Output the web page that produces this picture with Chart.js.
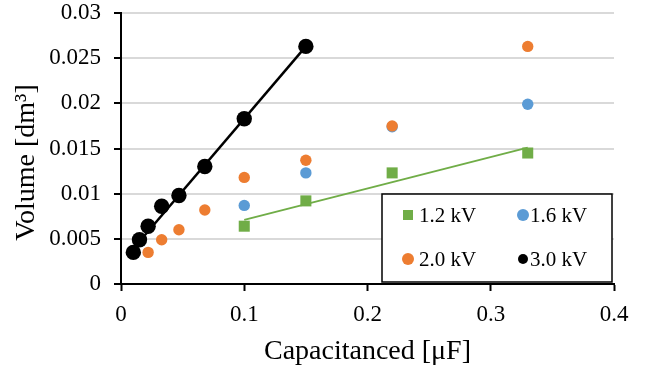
<!DOCTYPE html>
<html>
<head>
<meta charset="utf-8">
<script src="https://cdn.jsdelivr.net/npm/chart.js@4/dist/chart.umd.min.js"></script>
<style>
  html, body { margin: 0; padding: 0; background: #fff; }
  #wrap { width: 655px; height: 371px; }
</style>
</head>
<body>
<div id="wrap"><canvas id="chart" width="655" height="371"></canvas></div>
<script>
// Series data (capacitance in µF, volume in dm3)
const seriesNames = ['1.2 kV', '1.6 kV', '2.0 kV', '3.0 kV'];
const cap12 = [0.1, 0.15, 0.22, 0.33];
const vol12 = [0.0064, 0.0092, 0.0123, 0.0145];
const cap16 = [0.1, 0.15, 0.22, 0.33];
const vol16 = [0.0087, 0.0123, 0.0174, 0.0199];
const cap20 = [0.022, 0.033, 0.047, 0.068, 0.1, 0.15, 0.22, 0.33];
const vol20 = [0.0035, 0.0049, 0.0060, 0.0082, 0.0118, 0.0137, 0.0175, 0.0263];
const cap30 = [0.01, 0.015, 0.022, 0.033, 0.047, 0.068, 0.1, 0.15];
const vol30 = [0.0035, 0.0049, 0.0064, 0.0086, 0.0098, 0.0130, 0.0183, 0.0263];

// Trend line end points as drawn in the reference
const trendCap12 = [0.1, 0.33];
const trendVol12 = [0.0071, 0.0151];
const trendCap30 = [0.01, 0.15];
const trendVol30 = [0.0039, 0.0263];

const xTickLabels = ['0', '0.1', '0.2', '0.3', '0.4'];
const yTickLabels = ['0', '0.005', '0.01', '0.015', '0.02', '0.025', '0.03'];

const FONT = "'Liberation Serif', 'Times New Roman', serif";
const GREEN = '#70AD47', BLUE = '#5B9BD5', ORANGE = '#ED7D31', BLACK = '#000000';

const toPoints = (xs, ys) => xs.map((x, i) => ({ x: x, y: ys[i] }));

// Boxed 2x2 legend in the lower right corner of the plot
const boxLegend = {
  id: 'boxLegend',
  afterDraw(chart) {
    const ctx = chart.ctx;
    const area = chart.chartArea;
    const left = area.right - 232, top = area.bottom - 90;
    const w = 230, h = 88;
    ctx.save();
    ctx.fillStyle = '#fff';
    ctx.fillRect(left, top, w, h);
    ctx.strokeStyle = '#000';
    ctx.lineWidth = 1.5;
    ctx.strokeRect(left, top, w, h);

    const items = [
      { ds: 0, cx: left + 26, tx: left + 37, cy: top + 21 },
      { ds: 1, cx: left + 141, tx: left + 148, cy: top + 21 },
      { ds: 2, cx: left + 26, tx: left + 37, cy: top + 65 },
      { ds: 3, cx: left + 141, tx: left + 148, cy: top + 65 }
    ];
    ctx.font = '21px ' + FONT;
    ctx.textBaseline = 'middle';
    ctx.textAlign = 'left';
    items.forEach(it => {
      const ds = chart.data.datasets[it.ds];
      ctx.fillStyle = ds.backgroundColor;
      if (ds.pointStyle === 'rect') {
        ctx.fillRect(it.cx - 5, it.cy - 5, 10, 10);
      } else {
        const r = it.ds === 3 ? 5 : 6;
        ctx.beginPath();
        ctx.arc(it.cx, it.cy, r, 0, Math.PI * 2);
        ctx.fill();
      }
      ctx.fillStyle = '#000';
      ctx.fillText(seriesNames[it.ds], it.tx, it.cy + 1);
    });
    ctx.restore();
  }
};

new Chart(document.getElementById('chart'), {
  type: 'scatter',
  data: {
    datasets: [
      {
        label: seriesNames[0], data: toPoints(cap12, vol12),
        pointStyle: 'rect', pointRadius: 7.8, backgroundColor: GREEN,
        borderWidth: 0, order: 4
      },
      {
        label: seriesNames[1], data: toPoints(cap16, vol16),
        pointStyle: 'circle', pointRadius: 5.7, backgroundColor: BLUE,
        borderWidth: 0, order: 3
      },
      {
        label: seriesNames[2], data: toPoints(cap20, vol20),
        pointStyle: 'circle', pointRadius: 5.7, backgroundColor: ORANGE,
        borderWidth: 0, order: 2
      },
      {
        label: seriesNames[3], data: toPoints(cap30, vol30),
        pointStyle: 'circle', pointRadius: 7.7, backgroundColor: BLACK,
        borderWidth: 0, order: 1
      },
      {
        label: 'trend 1.2', data: toPoints(trendCap12, trendVol12),
        showLine: true, pointRadius: 0, borderColor: GREEN, borderWidth: 2,
        backgroundColor: GREEN, order: 0
      },
      {
        label: 'trend 3.0', data: toPoints(trendCap30, trendVol30),
        showLine: true, pointRadius: 0, borderColor: BLACK, borderWidth: 2.5,
        backgroundColor: BLACK, order: 0
      }
    ]
  },
  options: {
    responsive: false,
    animation: false,
    layout: { padding: { top: 13, right: 41, left: 0, bottom: 0 } },
    plugins: {
      legend: { display: false },
      tooltip: { enabled: false }
    },
    scales: {
      x: {
        type: 'linear', min: 0, max: 0.4,
        afterFit: s => { s.height = 87; s.paddingLeft = 0; s.paddingRight = 0; },
        afterBuildTicks: s => { s.ticks = xTickLabels.map(l => ({ value: parseFloat(l) })); },
        border: { color: '#000', width: 2 },
        grid: { drawOnChartArea: false, drawTicks: true, tickLength: 7, tickColor: '#000', tickWidth: 2 },
        ticks: {
          color: '#000', padding: 10, maxRotation: 0,
          font: { family: FONT, size: 23 },
          callback: (v, i) => xTickLabels[i]
        },
        title: {
          display: true, text: 'Capacitanced [μF]', color: '#000',
          font: { family: FONT, size: 28 }, padding: { top: 0, bottom: 3 }
        }
      },
      y: {
        type: 'linear', min: 0, max: 0.03,
        afterFit: s => { s.width = 121; s.paddingTop = 0; s.paddingBottom = 0; },
        afterBuildTicks: s => { s.ticks = yTickLabels.map(l => ({ value: parseFloat(l) })); },
        border: { color: '#000', width: 2 },
        grid: { color: '#d9d9d9', lineWidth: 2, drawTicks: true, tickLength: 7, tickColor: '#000', tickWidth: 2 },
        ticks: {
          color: '#000', padding: 13,
          font: { family: FONT, size: 23 },
          callback: (v, i) => yTickLabels[i]
        },
        title: {
          display: true, text: 'Volume [dm³]\u2002\u2002', color: '#000',
          font: { family: FONT, size: 28 }, padding: { top: 10, bottom: 0 }
        }
      }
    }
  },
  plugins: [boxLegend]
});
</script>
</body>
</html>
